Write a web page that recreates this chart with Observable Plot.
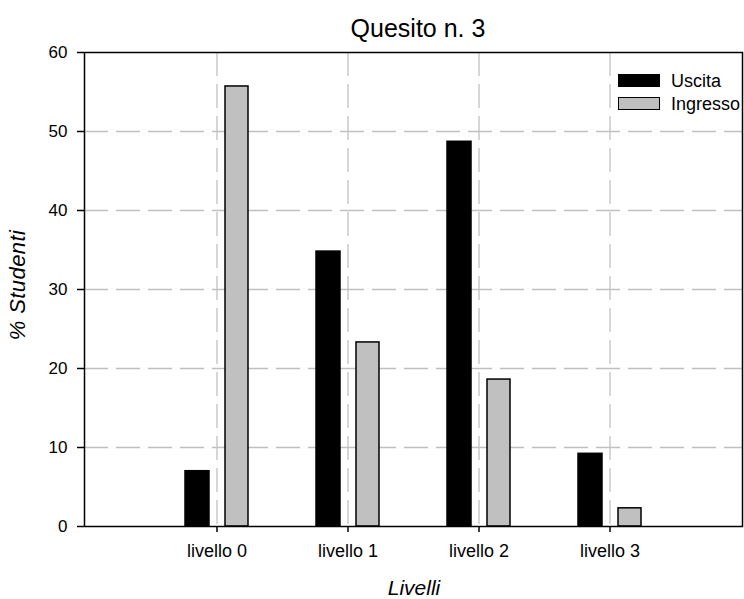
<!DOCTYPE html>
<html><head><meta charset="utf-8">
<script src="https://cdn.jsdelivr.net/npm/d3@7"></script>
<script src="https://cdn.jsdelivr.net/npm/@observablehq/plot@0.6"></script>
<style>
body{margin:0;background:#fff;font-family:"Liberation Sans",Arial,sans-serif;}
#wrap{position:relative;width:744px;height:599px;overflow:hidden;background:#fff;}
#chart{position:absolute;left:0;top:44px;}
.lbl{position:absolute;white-space:nowrap;line-height:1;color:#000;}
#title{left:0;width:836px;text-align:center;top:16px;font-size:25px;}
#xlabel{left:0;width:828px;text-align:center;top:577px;font-size:21px;font-style:italic;}
#ylabel{left:18px;top:285px;font-size:22px;font-style:italic;letter-spacing:0.4px;transform:translate(-50%,-50%) rotate(-90deg);}
.leg{position:absolute;left:618px;width:40px;height:11px;border:1.5px solid #000;}
.legt{position:absolute;left:671px;font-size:18px;line-height:1;}
</style></head>
<body><div id="wrap">
<div id="title" class="lbl">Quesito n. 3</div>
<div id="chart"></div>
<div id="xlabel" class="lbl">Livelli</div>
<div id="ylabel" class="lbl">% Studenti</div>
<div id="legend"></div>
</div>
<script>
const categories = ["livello 0", "livello 1", "livello 2", "livello 3"];
const uscita = [7.0, 34.8, 48.7, 9.2];
const ingresso = [55.7, 23.3, 18.6, 2.3];
const seriesNames = ["Uscita", "Ingresso"];
const seriesColors = ["#000000", "#c0c0c0"];
const yTicks = [0, 10, 20, 30, 40, 50, 60];

const rowsU = categories.map((c, i) => ({cat: c, value: uscita[i], series: seriesNames[0]}));
const rowsI = categories.map((c, i) => ({cat: c, value: ingresso[i], series: seriesNames[1]}));

const grid = {stroke: "#c0c0c0", strokeOpacity: 1, strokeWidth: 1.3, strokeDasharray: "24,8"};

const chart = Plot.plot({
  width: 744,
  height: 555,
  marginLeft: 84,
  marginRight: 2,
  marginTop: 8,
  marginBottom: 73,
  style: {fontFamily: "'Liberation Sans', Arial, sans-serif", fontSize: "17px", background: "#fff", color: "#000"},
  x: {domain: categories, paddingInner: 0, paddingOuter: 0.5, axis: null},
  y: {domain: [0, 60], axis: null},
  marks: [
    Plot.ruleY(yTicks.slice(1, -1), grid),
    Plot.ruleX(categories, grid),
    Plot.barY(rowsU, {x: "cat", y: "value", fill: seriesColors[0], stroke: "#000", strokeWidth: 1.5, insetLeft: 34, insetRight: 73}),
    Plot.barY(rowsI, {x: "cat", y: "value", fill: seriesColors[1], stroke: "#000", strokeWidth: 1.5, insetLeft: 74, insetRight: 34}),
    Plot.frame({stroke: "#000", strokeWidth: 1.5}),
    Plot.axisY(yTicks, {tickSize: 7, tickPadding: 10, label: null, fontSize: 17, stroke: "#000", strokeWidth: 1.5}),
    Plot.axisX(categories, {tickSize: 6, tickPadding: 12, label: null, fontSize: 18, stroke: "#000", strokeWidth: 1.5})
  ]
});
document.getElementById("chart").appendChild(chart);

const legend = document.getElementById("legend");
seriesNames.forEach((name, i) => {
  const box = document.createElement("div");
  box.className = "leg";
  box.style.top = (74 + i * 23) + "px";
  box.style.background = seriesColors[i];
  legend.appendChild(box);
  const t = document.createElement("div");
  t.className = "legt";
  t.style.top = (72 + i * 23) + "px";
  t.textContent = name;
  legend.appendChild(t);
});
</script>
</body></html>
